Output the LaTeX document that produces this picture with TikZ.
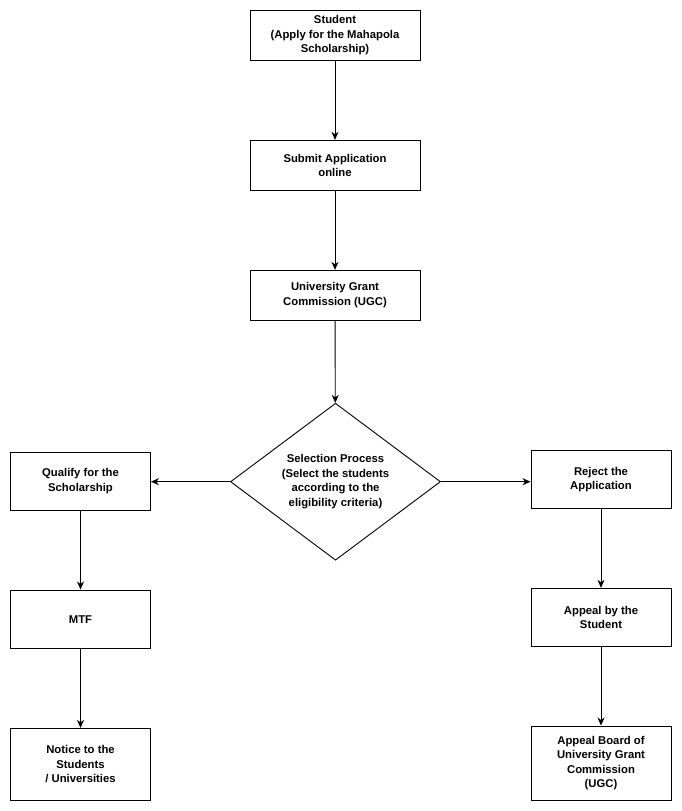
\documentclass[tikz,border=0pt]{standalone}
\usepackage{fontspec}
\setmainfont{Liberation Sans}
\usetikzlibrary{shapes.geometric,arrows.meta}
\begin{document}
\begin{tikzpicture}[x=1pt,y=-1pt,
  every node/.style={font=\fontsize{11.3}{14.5}\selectfont\bfseries, align=center, inner sep=0pt},
  boxnode/.style={draw, line width=0.9pt, minimum width=#1, minimum height=50pt},
  boxnode/.default=170pt,
  arr/.style={draw, line width=0.9pt, -{Stealth[length=8pt,width=7pt,inset=2.5pt]}}]
\useasboundingbox (0,0) rectangle (682,811);
\node[boxnode] (stu) at (335,35.3) {Student\\(Apply for the Mahapola\\Scholarship)};
\node[boxnode] (sub) at (335,165.3) {Submit Application\\online};
\node[boxnode] (ugc) at (335,295.3) {University Grant\\Commission (UGC)};
\node[draw, line width=0.9pt, diamond, aspect=1.34, minimum width=210pt, minimum height=157pt] (sel) at (335.5,481.7)
  {Selection Process\\(Select the students\\according to the\\eligibility criteria)};
\node[boxnode=140pt, minimum height=58pt] (qual) at (80.5,481.3) {Qualify for the\\Scholarship};
\node[boxnode=140pt, minimum height=57.5pt] (rej) at (601,479.5) {Reject the\\Application};
\node[boxnode=140pt, minimum height=58.7pt] (mtf) at (80.5,619.3) {MTF};
\node[boxnode=140pt, minimum height=72.4pt] (not) at (80.5,764.5) {Notice to the\\Students\\/ Universities};
\node[boxnode=140pt, minimum height=58pt] (app) at (601,617.3) {Appeal by the\\Student};
\node[boxnode=140pt, minimum height=74.7pt] (brd) at (601,763.3) {Appeal Board of\\University Grant\\Commission\\(UGC)};
\draw[arr] (stu) -- (sub);
\draw[arr] (sub) -- (ugc);
\draw[arr] (ugc) -- (sel);
\draw[arr] (sel.west) -- (qual.east |- sel.west);
\draw[arr] (sel.east) -- (rej.west |- sel.east);
\draw[arr] (qual) -- (mtf);
\draw[arr] (mtf) -- (not);
\draw[arr] (rej) -- (app);
\draw[arr] (app) -- (brd);
\end{tikzpicture}
\end{document}
